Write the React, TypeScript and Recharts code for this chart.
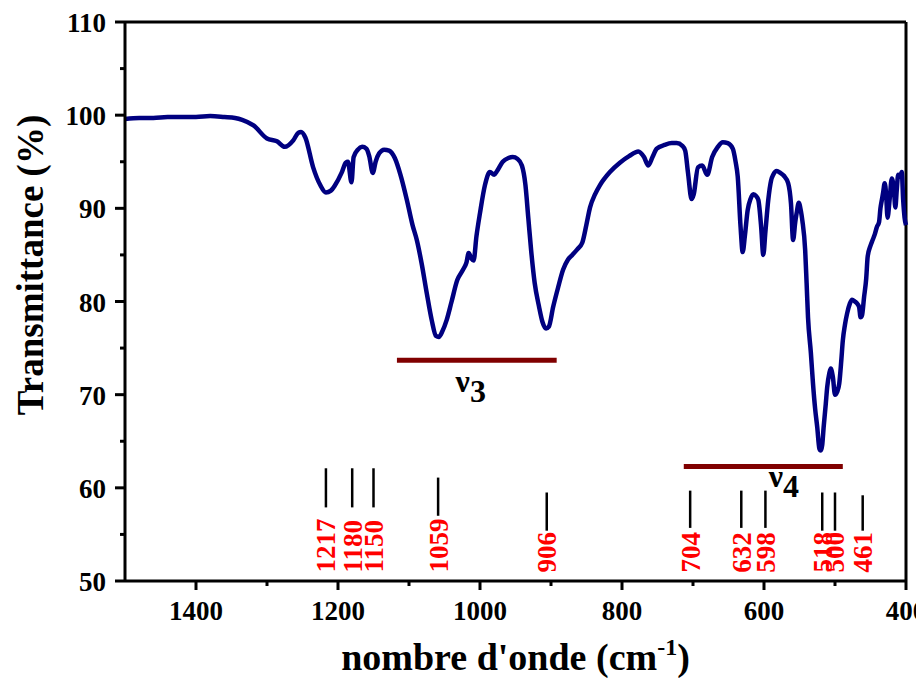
import { LineChart, Line, XAxis, YAxis, ReferenceLine, ReferenceDot } from "recharts"

// FTIR spectrum, wavenumber (cm-1) vs transmittance (%)
const wavenumber = [
  1500, 1480, 1460, 1440, 1420, 1400, 1380, 1360, 1345, 1335, 1319, 1300, 1286, 1275, 1263, 1256, 1252,
  1246, 1235, 1225, 1217, 1210, 1204, 1195, 1189, 1186, 1181, 1178, 1172, 1166, 1160, 1156, 1151, 1147,
  1142, 1135, 1128, 1120, 1112, 1103, 1095, 1089, 1082, 1075, 1068, 1062, 1058, 1053, 1047, 1040, 1032,
  1024, 1019, 1016, 1012, 1009, 1005, 1000, 993, 986, 980, 976, 968, 960, 954, 947, 941, 936, 932, 928,
  923, 917, 912, 907, 903, 897, 890, 883, 876, 870, 863, 856, 850, 845, 838, 831, 817, 803, 790, 777, 769,
  763, 757, 751, 740, 730, 723, 715, 711, 707, 702, 699, 693, 687, 680, 673, 665, 658, 651, 644, 640, 637,
  633, 630, 627, 623, 619, 615, 611, 608, 604, 601, 598, 594, 590, 587, 582, 577, 572, 566, 562, 559, 556,
  554, 551, 548, 546, 542, 540, 538, 534, 531, 528, 525, 522, 520, 518, 516, 513, 511, 508, 506, 503, 500,
  497, 494, 491, 489, 486, 483, 479, 476, 472, 469, 466, 464, 462, 459, 456, 454, 450, 447, 444, 441, 438,
  436, 434, 432, 430, 428, 426, 423, 420, 417, 415, 413, 411, 408, 406, 404, 402, 400,
]
const transmittance = [
  99.6, 99.7, 99.7, 99.8, 99.8, 99.8, 99.9, 99.8, 99.7, 99.5, 98.9, 97.5, 97.2, 96.6, 97.3, 98.1, 98.2,
  97.6, 94.4, 92.5, 91.7, 91.9, 92.5, 93.8, 94.9, 95.0, 92.8, 95.5, 96.3, 96.6, 96.4, 95.6, 93.8, 95.0,
  95.9, 96.3, 96.2, 95.4, 93.6, 90.9, 88.2, 86.6, 84.0, 80.9, 78.0, 76.3, 76.2, 76.8, 78.0, 80.0, 82.3,
  83.4, 84.2, 85.2, 84.6, 84.4, 87.0, 89.5, 92.5, 93.9, 93.6, 94.0, 95.0, 95.4, 95.5, 95.3, 94.6, 92.5,
  89.0, 85.5, 82.0, 79.5, 77.8, 77.1, 77.3, 79.4, 81.5, 83.4, 84.5, 85.0, 85.6, 86.3, 88.3, 90.1, 91.5,
  92.5, 93.9, 94.9, 95.6, 96.1, 95.5, 94.6, 95.5, 96.4, 96.8, 97.0, 97.0, 96.7, 96.2, 93.8, 91.0, 91.5,
  94.4, 94.6, 93.6, 95.5, 96.6, 97.1, 97.0, 96.4, 95.0, 93.4, 88.0, 85.3, 87.0, 89.8, 91.0, 91.5, 91.3,
  90.9, 88.0, 85.0, 87.5, 90.9, 93.0, 93.6, 94.0, 93.8, 93.5, 92.7, 90.5, 86.6, 88.5, 89.5, 90.6, 89.7,
  88.7, 85.5, 82.0, 78.3, 74.5, 71.2, 68.5, 66.5, 64.2, 64.0, 64.6, 66.5, 69.0, 70.8, 72.3, 72.8, 71.9,
  70.0, 70.3, 71.2, 73.8, 75.8, 77.5, 78.7, 79.8, 80.2, 80.0, 79.8, 79.4, 78.3, 78.5, 80.5, 82.5, 84.8,
  86.0, 86.6, 87.2, 88.0, 88.5, 90.0, 90.9, 91.8, 92.7, 91.5, 89.0, 91.0, 93.2, 92.0, 90.1, 92.0, 93.6,
  93.4, 93.9, 90.9, 89.0, 88.2,
]

const xMajorTicks = [1400, 1200, 1000, 800, 600, 400]
const xMinorTicks = [1300, 1100, 900, 700, 500]
const yMajorTicks = [50, 60, 70, 80, 90, 100, 110]
const yMinorTicks = [55, 65, 75, 85, 95, 105]

// assigned absorption bands: marker line from top to bottom, label underneath
const peakPositions = [1217, 1180, 1150, 1059, 906, 704, 632, 598, 518, 500, 461]
const peakMarkTop = [62.1, 62.1, 62.1, 61.1, 59.5, 59.7, 59.7, 59.7, 59.5, 59.5, 59.2]
const peakMarkBottom = [57.9, 57.9, 57.9, 57.0, 55.4, 55.7, 55.7, 55.7, 55.4, 55.4, 55.4]
const peakLabelBase = 50.9

// vibration modes of the phosphate group
const modeNames = ["ν3", "ν4"]
const modeFrom = [1117, 713]
const modeTo = [892, 489]
const modeLevel = [73.7, 62.3]
const modeLabelX = [1013, 572]
const modeLabelY = [69.2, 59.0]

const data = wavenumber.map((wn, i) => ({ wn, t: transmittance[i] }))

const SERIF = '"Liberation Serif", "Times New Roman", serif'

const XTick = (props: any) => {
  const { x, y, payload } = props
  const major = xMajorTicks.includes(payload.value)
  return (
    <g>
      <line x1={x} x2={x} y1={y} y2={y + (major ? 9 : 5)} stroke="#000" strokeWidth={3} />
      {major && (
        <text x={x} y={y + 39} textAnchor="middle" fontFamily={SERIF} fontWeight="bold" fontSize={27} fill="#000">
          {payload.value}
        </text>
      )}
    </g>
  )
}

const YTick = (props: any) => {
  const { x, y, payload } = props
  const major = yMajorTicks.includes(payload.value)
  return (
    <g>
      <line x1={x} x2={x - (major ? 10 : 5)} y1={y} y2={y} stroke="#000" strokeWidth={3} />
      {major && (
        <text x={x - 19} y={y + 10} textAnchor="end" fontFamily={SERIF} fontWeight="bold" fontSize={27} fill="#000">
          {payload.value}
        </text>
      )}
    </g>
  )
}

const xTitle = (props: any) => {
  const { viewBox } = props
  const cx = viewBox.x + viewBox.width / 2
  return (
    <text x={cx} y={viewBox.y + 89} textAnchor="middle" fontFamily={SERIF} fontWeight="bold" fontSize={38} fill="#000">
      nombre d'onde (cm
      <tspan dy={-15} fontSize={24}>-1</tspan>
      <tspan dy={15}>)</tspan>
    </text>
  )
}

const yTitle = () => (
  <text
    x={43}
    y={265}
    transform="rotate(-90, 43, 265)"
    textAnchor="middle"
    fontFamily={SERIF}
    fontWeight="bold"
    fontSize={37}
    fill="#000"
  >
    Transmittance (%)
  </text>
)

const peakLabel = (value: number) => (props: any) => {
  const { viewBox } = props
  const { x, y } = viewBox
  return (
    <text
      x={x}
      y={y}
      dy="0.35em"
      transform={`rotate(-90, ${x}, ${y})`}
      textAnchor="start"
      fontFamily={SERIF}
      fontWeight="bold"
      fontSize={27}
      fill="#ff0000"
    >
      {value}
    </text>
  )
}

const modeLabel = (name: string) => (props: any) => {
  const { viewBox } = props
  return (
    <text x={viewBox.x} y={viewBox.y} textAnchor="middle" fontFamily={SERIF} fontWeight="bold" fontSize={32} fill="#000">
      <tspan dy={-10}>{name.slice(0, 1)}</tspan>
      <tspan dy={10}>{name.slice(1)}</tspan>
    </text>
  )
}

export default function App() {
  return (
    <div style={{ position: "absolute", left: 0, top: 0, width: 916, height: 678, background: "#fff" }}>
      <LineChart width={916} height={678} data={data} margin={{ top: 22, right: 10, bottom: 0, left: 0 }}>
        <XAxis
          dataKey="wn"
          type="number"
          domain={[400, 1500]}
          reversed
          ticks={[...xMajorTicks, ...xMinorTicks].sort((a, b) => b - a)}
          interval={0}
          height={97}
          tickSize={0}
          tickMargin={0}
          tickLine={false}
          axisLine={{ stroke: "#000", strokeWidth: 3 }}
          tick={<XTick />}
          label={{ content: xTitle }}
        />
        <YAxis
          type="number"
          domain={[50, 110]}
          ticks={[...yMajorTicks, ...yMinorTicks].sort((a, b) => a - b)}
          interval={0}
          width={125}
          tickSize={0}
          tickMargin={0}
          tickLine={false}
          axisLine={{ stroke: "#000", strokeWidth: 3 }}
          tick={<YTick />}
          label={{ content: yTitle }}
        />
        <ReferenceLine y={110} stroke="#000" strokeWidth={3} />
        <ReferenceLine x={400} stroke="#000" strokeWidth={3} />

        {modeNames.map((name, i) => (
          <ReferenceLine
            key={name}
            segment={[
              { x: modeFrom[i], y: modeLevel[i] },
              { x: modeTo[i], y: modeLevel[i] },
            ]}
            stroke="#800000"
            strokeWidth={5}
          />
        ))}
        {modeNames.map((name, i) => (
          <ReferenceDot
            key={"lbl" + name}
            x={modeLabelX[i]}
            y={modeLabelY[i]}
            r={0}
            fill="none"
            stroke="none"
            label={{ content: modeLabel(name) }}
          />
        ))}

        {peakPositions.map((p, i) => (
          <ReferenceLine
            key={p}
            segment={[
              { x: p, y: peakMarkTop[i] },
              { x: p, y: peakMarkBottom[i] },
            ]}
            stroke="#000"
            strokeWidth={2.5}
          />
        ))}
        {peakPositions.map(p => (
          <ReferenceDot
            key={"pk" + p}
            x={p}
            y={peakLabelBase}
            r={0}
            fill="none"
            stroke="none"
            label={{ content: peakLabel(p) }}
          />
        ))}

        <Line
          dataKey="t"
          type="monotone"
          stroke="#000080"
          strokeWidth={4.5}
          dot={false}
          isAnimationActive={false}
        />
      </LineChart>
    </div>
  )
}
